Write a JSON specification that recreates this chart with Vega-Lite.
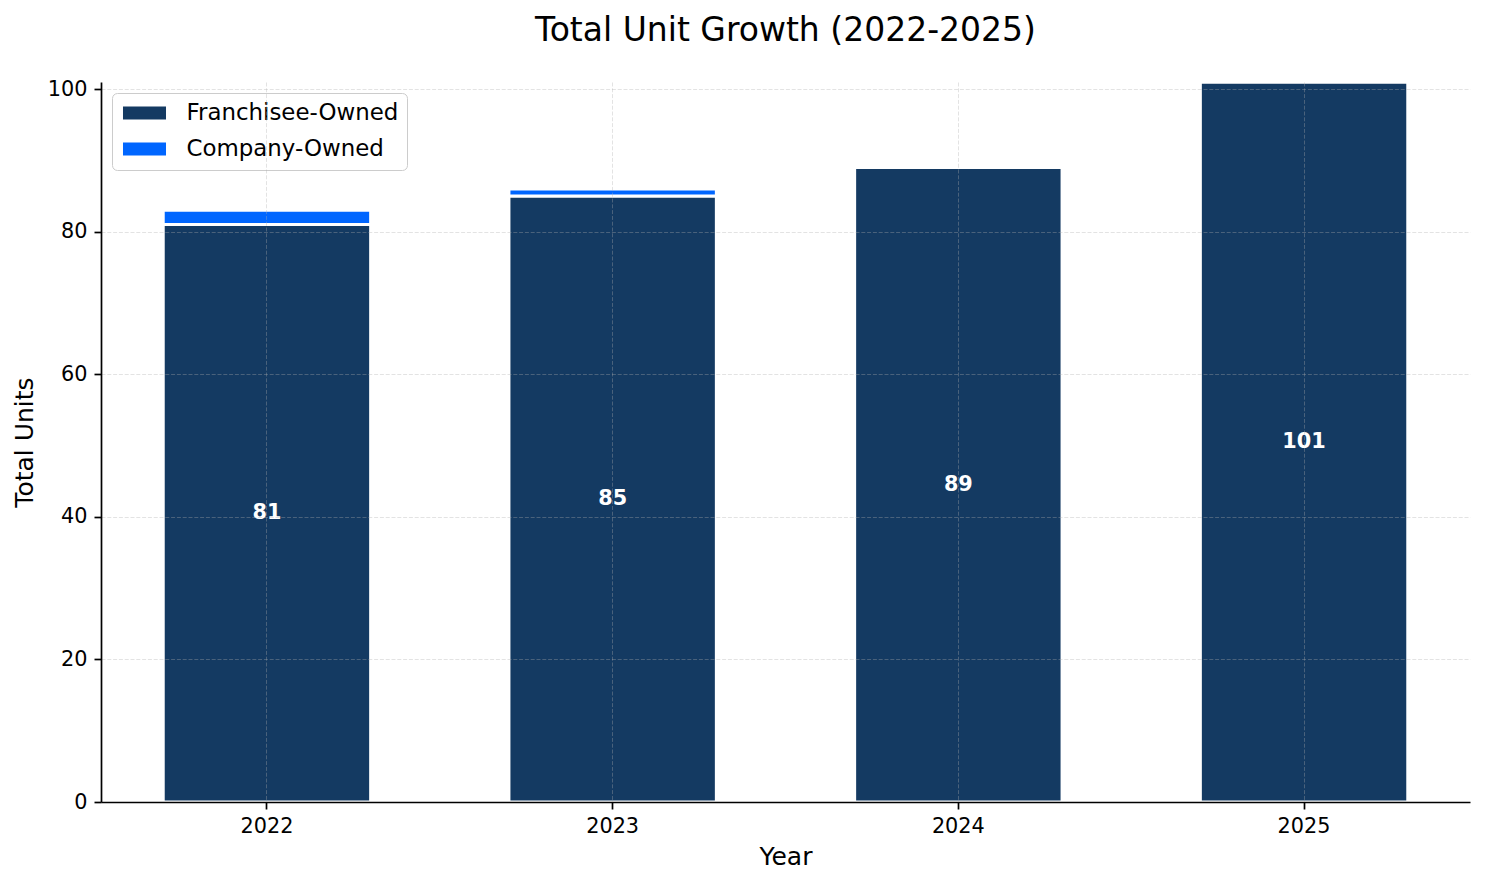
{
  "$schema": "https://vega.github.io/schema/vega-lite/v6.json",
  "width": 1369,
  "height": 720,
  "autosize": {"type": "none"},
  "padding": {"left": 101, "top": 82, "right": 15, "bottom": 82},
  "background": "white",
  "config": {
    "view": {"stroke": null},
    "font": "DejaVu Sans",
    "axis": {
      "labelFont": "DejaVu Sans",
      "titleFont": "DejaVu Sans",
      "labelFontSize": 20.8,
      "titleFontSize": 25,
      "titleFontWeight": "normal",
      "labelColor": "black",
      "titleColor": "black",
      "domainColor": "black",
      "domainWidth": 1.7,
      "tickColor": "black",
      "tickWidth": 1.7,
      "tickSize": 7,
      "labelPadding": 7,
      "gridColor": "#b0b0b0",
      "gridOpacity": 0.35,
      "gridWidth": 1,
      "gridDash": [4, 1.8]
    },
    "legend": {
      "labelFont": "DejaVu Sans"
    }
  },
  "title": {
    "text": "Total Unit Growth (2022-2025)",
    "font": "DejaVu Sans",
    "fontSize": 33,
    "fontWeight": "normal",
    "color": "black",
    "anchor": "middle",
    "frame": "group",
    "baseline": "alphabetic",
    "offset": 4
  },
  "data": {
    "values": [
      {"year": "2022", "type": "Franchisee-Owned", "units": 81},
      {"year": "2022", "type": "Company-Owned", "units": 2},
      {"year": "2023", "type": "Franchisee-Owned", "units": 85},
      {"year": "2023", "type": "Company-Owned", "units": 1},
      {"year": "2024", "type": "Franchisee-Owned", "units": 89},
      {"year": "2024", "type": "Company-Owned", "units": 0},
      {"year": "2025", "type": "Franchisee-Owned", "units": 101},
      {"year": "2025", "type": "Company-Owned", "units": 0}
    ]
  },
  "encoding": {
    "x": {
      "field": "year",
      "type": "ordinal",
      "scale": {"paddingInner": 0.4, "paddingOuter": 0.18},
      "axis": {
        "title": "Year",
        "labelAngle": 0,
        "bandPosition": 0.5,
        "grid": true,
        "titlePadding": 9,
        "zindex": 1
      }
    }
  },
  "layer": [
    {
      "mark": {"type": "bar", "stroke": "white", "strokeWidth": 3},
      "encoding": {
        "y": {
          "field": "units",
          "type": "quantitative",
          "stack": "zero",
          "scale": {"domain": [0, 101], "nice": false},
          "axis": {
            "title": "Total Units",
            "values": [0, 20, 40, 60, 80, 100],
            "grid": true,
            "titlePadding": 9.5,
            "zindex": 1
          }
        },
        "color": {
          "field": "type",
          "type": "nominal",
          "scale": {
            "domain": ["Franchisee-Owned", "Company-Owned"],
            "range": ["#143A62", "#0066FF"]
          },
          "legend": {
            "title": null,
            "orient": "top-left",
            "offset": 11,
            "padding": 8.5,
            "fillColor": "rgba(255,255,255,0.8)",
            "strokeColor": "#cccccc",
            "cornerRadius": 5,
            "labelFontSize": 22.9,
            "labelColor": "black",
            "labelLimit": 400,
            "symbolType": "M-1.87,-0.565H1.87V0.565H-1.87Z",
            "symbolSize": 529,
            "symbolStrokeWidth": 0,
            "symbolOpacity": 1,
            "symbolOffset": 12.5,
            "labelOffset": 30.5,
            "rowPadding": 12
          }
        },
        "order": {"field": "type", "sort": "descending"}
      }
    },
    {
      "transform": [{"filter": "datum.type === 'Franchisee-Owned'"}],
      "mark": {
        "type": "text",
        "color": "white",
        "font": "DejaVu Sans",
        "fontWeight": "bold",
        "fontSize": 20.8,
        "baseline": "middle",
        "align": "center"
      },
      "encoding": {
        "y": {
          "field": "units",
          "type": "quantitative",
          "scale": {"domain": [0, 202], "nice": false},
          "axis": null
        },
        "text": {"field": "units", "type": "quantitative"}
      }
    }
  ],
  "resolve": {"scale": {"y": "independent"}}
}
